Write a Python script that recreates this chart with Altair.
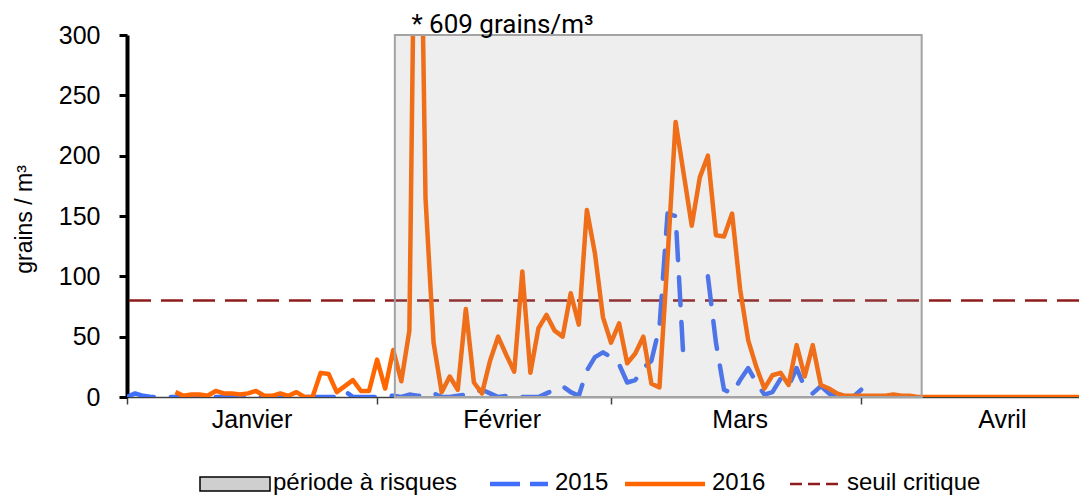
import altair as alt
import pandas as pd

# ---------------- data ----------------
# day index: 0 = 1 January ... 118 = end of April (one value per day)
pollen_2015 = [
    0, 3, 1, 0, 0, 0, 0, 0, 0, 0,
    0, 0, 0, 0, 0, 0, 0, 0, 0, 0,
    0, 0, 0, 0, 0, 0, 0, 5, 0, 0,
    0, 0, 1, 1, 0, 2, 1, 1, 3, 0,
    0, 1, 2, 4, 6, 3, 0, 1, 0, 0,
    0, 0, 3, 6, 9, 4, 1, 22, 33, 37,
    33, 27, 12, 14, 24, 30, 58, 152, 150, 28,
    None, None, 100, 45, 6, 3, 14, 24, 12, 2,
    4, 15, 9, 24, 8, 3, 9, 3, 0, 0,
    0, 6,
]
pollen_2016 = [
    None, None, None, None, None, None, 4, 1, 2, 2,
    1, 5, 3, 3, 2, 3, 5, 1, 1, 3,
    1, 4, 0, 0, 20, 19, 4, 9, 14, 5,
    5, 31, 7, 39, 13, 55, 609, 165, 45, 4,
    17, 6, 73, 12, 3, 30, 50, 35, 21, 104,
    20, 57, 68, 55, 50, 86, 60, 155, 119, 66,
    45, 61, 28, 36, 50, 11, 8, 115, 228, 185,
    142, 182, 200, 134, 133, 152, 89, 47, 25, 7,
    18, 20, 10, 43, 17, 43, 10, 7, 3, 1,
    1, 1, 1, 1, 1, 2, 1, 1, 0, 0,
    0, 0, 0, 0, 0, 0, 0, 0, 0, 0,
    0, 0, 0, 0, 0, 0, 0, 0, 0,
]
threshold = [80]
risk_period = [33.2, 98.5]           # start / end day of the risk period
month_starts = [0, 31, 60, 91]
month_names = ["Janvier", "Février", "Mars", "Avril"]
month_label_days = [15.5, 46.5, 76, 108.5]
y_ticks = [0, 50, 100, 150, 200, 250, 300]
peak_day = 36
peak_value = 609
legend_labels = ["période à risques", "2015", "2016", "seuil critique"]

X_MAX = 118
Y_MAX = 300


def to_frame(values):
    rows, seg, gap = [], 0, False
    for d, v in enumerate(values):
        if v is None:
            gap = True
            continue
        if gap:
            seg += 1
            gap = False
        rows.append({"day": d, "value": v, "seg": seg})
    return pd.DataFrame(rows)


df15 = to_frame(pollen_2015)
df16 = to_frame(pollen_2016)

xs = alt.Scale(domain=[0, X_MAX], nice=False, zero=False)
ys = alt.Scale(domain=[0, Y_MAX], nice=False)

FONT = "Liberation Sans"

xaxis = alt.Axis(values=month_starts, labels=False, title=None, tickSize=7,
                 tickWidth=1.5, tickColor="#404040", domainColor="#404040",
                 domainWidth=1.5, grid=False)
yaxis = alt.Axis(values=y_ticks, title="grains / m³", titleFont=FONT,
                 titleFontSize=23, titleFontWeight="normal", titleColor="black",
                 titleAngle=270, titleX=-103, titleY=184, titleAlign="center",
                 titleBaseline="middle", labelFont=FONT, labelFontSize=25,
                 labelColor="black", labelPadding=19, tickSize=8, tickWidth=3,
                 tickColor="black", domainColor="black", domainWidth=4,
                 grid=False)

seuil = alt.Chart(pd.DataFrame({"seuil": threshold})).mark_rule(
    color="#8E1B1B", strokeWidth=2.5, strokeDash=[22, 10]
).encode(y=alt.Y("seuil:Q", scale=ys, axis=yaxis))

line15 = alt.Chart(df15).mark_line(
    color="#3F6EF8", strokeWidth=4.5, strokeDash=[28, 17], strokeCap="round",
    strokeJoin="round", clip=True
).encode(
    x=alt.X("day:Q", scale=xs, axis=xaxis),
    y=alt.Y("value:Q", scale=ys, axis=yaxis),
    detail="seg:N",
)

line16 = alt.Chart(df16).mark_line(
    color="#FF6600", strokeWidth=4.5, strokeJoin="round", clip=True
).encode(
    x=alt.X("day:Q", scale=xs, axis=xaxis),
    y=alt.Y("value:Q", scale=ys, axis=yaxis),
    detail="seg:N",
)

box = alt.Chart(pd.DataFrame({"start": [risk_period[0]], "end": [risk_period[1]],
                              "low": [0], "high": [Y_MAX]})).mark_rect(
    fill="#999999", fillOpacity=0.17, stroke="#A3A3A3", strokeWidth=2
).encode(
    x=alt.X("start:Q", scale=xs, axis=xaxis), x2="end:Q",
    y=alt.Y("low:Q", scale=ys, axis=yaxis), y2="high:Q",
)

months = alt.Chart(pd.DataFrame({"mid": month_label_days, "name": month_names})).mark_text(
    font=FONT, fontSize=25, color="black", baseline="alphabetic", align="center"
).encode(
    x=alt.X("mid:Q", scale=xs, axis=xaxis), y=alt.value(393), text="name:N"
)

annot = alt.Chart(pd.DataFrame({"day": [peak_day],
                                "label": [f"* {peak_value} grains/m³"]})).mark_text(
    font="Roboto", fontSize=26, color="black", align="left",
    baseline="alphabetic", dx=-6
).encode(
    x=alt.X("day:Q", scale=xs, axis=xaxis), y=alt.value(-2), text="label:N"
)

# ---------------- legend (drawn by hand) ----------------
LEG_Y = 449
LEG_BASE = 455
leg_rect = alt.Chart(pd.DataFrame({"a": [0]})).mark_rect(
    fill="#CFCFCF", stroke="black", strokeWidth=1.5
).encode(x=alt.value(73), x2=alt.value(143), y=alt.value(442), y2=alt.value(456))
leg_blue = alt.Chart(pd.DataFrame({"a": [0]})).mark_rule(
    color="#3F6EF8", strokeWidth=4.5, strokeDash=[30, 10]
).encode(x=alt.value(363), x2=alt.value(421), y=alt.value(LEG_Y))
leg_orange = alt.Chart(pd.DataFrame({"a": [0]})).mark_rule(
    color="#FF6600", strokeWidth=4.5
).encode(x=alt.value(498), x2=alt.value(578), y=alt.value(LEG_Y))
leg_red = alt.Chart(pd.DataFrame({"a": [0]})).mark_rule(
    color="#8E1B1B", strokeWidth=2.5, strokeDash=[12, 6]
).encode(x=alt.value(663), x2=alt.value(713), y=alt.value(LEG_Y))

leg_x = [146, 428, 585, 720]
leg_texts = [
    alt.Chart(pd.DataFrame({"t": [lab]})).mark_text(
        font=FONT, fontSize=24, color="black", align="left", baseline="alphabetic"
    ).encode(x=alt.value(px), y=alt.value(LEG_BASE), text="t:N")
    for lab, px in zip(legend_labels, leg_x)
]

chart = alt.layer(
    seuil, line15, line16, box, months, annot,
    leg_rect, leg_blue, leg_orange, leg_red, *leg_texts
).properties(
    width=952, height=362,
    autosize=alt.AutoSizeParams(type="none"),
    padding={"left": 119, "top": 27, "right": 0, "bottom": 99},
).configure_view(strokeWidth=0)

chart.save("out.html", embed_options={"renderer": "svg", "actions": False})
